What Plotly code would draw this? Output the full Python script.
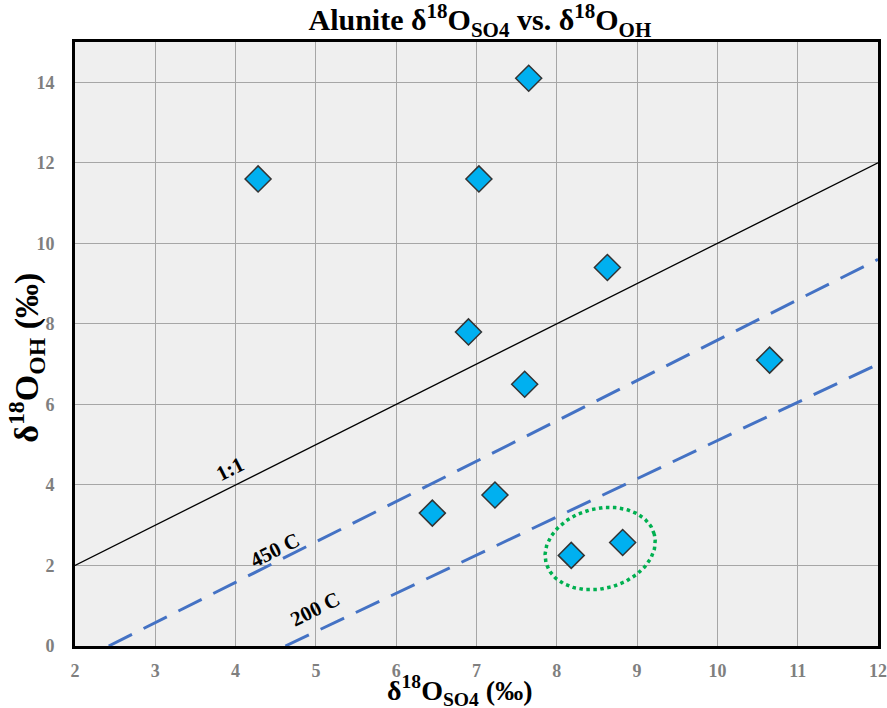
import numpy as np
import plotly.graph_objects as go

# Data
so4 = [4.28, 7.03, 7.65, 8.63, 6.90, 7.60, 10.65, 6.45, 7.23, 8.18, 8.82]
oh = [11.6, 11.6, 14.1, 9.4, 7.8, 6.5, 7.1, 3.3, 3.75, 2.25, 2.57]

line_11_x = [2, 12]
line_11_y = [2, 12]
line_450_x = [2.42, 12]
line_450_y = [0, 9.6]
line_200_x = [4.62, 12]
line_200_y = [0, 7.0]

x_ticks = list(range(2, 13))
y_ticks = list(range(0, 16, 2))

# ellipse parameters (data centre, pixel-ish radii, tilt)
ell_cx, ell_cy = 8.54, 2.42
ell_a_px, ell_b_px, ell_ang = 56, 40, 15

SERIF = "Liberation Serif, Times New Roman, serif"

fig = go.Figure()

fig.add_trace(go.Scatter(x=line_11_x, y=line_11_y, mode="lines",
                         line=dict(color="black", width=1.3), showlegend=False, hoverinfo="skip"))
fig.add_trace(go.Scatter(x=line_450_x, y=line_450_y, mode="lines",
                         line=dict(color="#4472C4", width=3, dash="26px,13px"), showlegend=False, hoverinfo="skip"))
fig.add_trace(go.Scatter(x=line_200_x, y=line_200_y, mode="lines",
                         line=dict(color="#4472C4", width=3, dash="26px,13px"), showlegend=False, hoverinfo="skip"))

# ellipse (computed from centre/radii, px scale converted to data units)
sx, sy = 80.3, 40.3
t = np.linspace(0, 2 * np.pi, 200)
th = np.deg2rad(ell_ang)
px = ell_a_px * np.cos(t) * np.cos(th) - ell_b_px * np.sin(t) * np.sin(th)
py = ell_a_px * np.cos(t) * np.sin(th) + ell_b_px * np.sin(t) * np.cos(th)
fig.add_trace(go.Scatter(x=ell_cx + px / sx, y=ell_cy + py / sy, mode="lines",
                         line=dict(color="#00B050", width=3.5, dash="dot"),
                         showlegend=False, hoverinfo="skip"))

fig.add_trace(go.Scatter(x=so4, y=oh, mode="markers",
                         marker=dict(symbol="diamond", size=20, color="#00B0F0",
                                     line=dict(color="#333333", width=1.5)),
                         showlegend=False))

ann_font = dict(family=SERIF, size=21, color="black")
angle = -np.degrees(np.arctan(sy / sx))
for txt, ax_, ay_ in [("<b>1:1</b>", 3.93, 4.4), ("<b>450 C</b>", 4.49, 2.38), ("<b>200 C</b>", 4.99, 0.93)]:
    fig.add_annotation(x=ax_, y=ay_, text=txt, showarrow=False, textangle=angle, font=ann_font)

# axis titles as annotations for precise placement
fig.add_annotation(xref="paper", yref="paper", x=0.479, y=-0.074, yanchor="middle", xanchor="center",
                   text="<b>δ<sup>18</sup>O<sub>SO4</sub> (‰)</b>", showarrow=False,
                   font=dict(family=SERIF, size=28, color="black"))
fig.add_annotation(xref="paper", yref="paper", x=-0.060, y=0.477, yanchor="middle", xanchor="center",
                   text="<b>δ<sup>18</sup>O<sub>OH</sub> (‰)</b>", showarrow=False, textangle=-90,
                   font=dict(family=SERIF, size=34, color="black"))

fig.update_layout(
    width=887, height=708,
    margin=dict(l=75, r=9, t=42, b=62, autoexpand=False),
    paper_bgcolor="white", plot_bgcolor="#EFEFEF",
    title=dict(text="<b>Alunite δ<sup>18</sup>O<sub>SO4</sub> vs. δ<sup>18</sup>O<sub>OH</sub></b>",
               x=0.541, xanchor="center", y=0.972, yanchor="middle",
               font=dict(family=SERIF, size=30, color="black")),
    font=dict(family=SERIF, size=18),
)
fig.update_xaxes(range=[2, 12], tickvals=x_ticks, showgrid=True, gridcolor="#A6A6A6", gridwidth=1,
                 showline=True, linecolor="black", linewidth=3, mirror=True, zeroline=False,
                 ticks="", ticklabelstandoff=6, automargin=False,
                 tickfont=dict(family=SERIF, size=18, color="#7F7F7F", weight="bold"))
fig.update_yaxes(range=[0, 15], tickvals=y_ticks, showgrid=True, gridcolor="#A6A6A6", gridwidth=1,
                 showline=True, linecolor="black", linewidth=3, mirror=True, zeroline=False,
                 ticks="", ticklabelstandoff=14, automargin=False,
                 tickfont=dict(family=SERIF, size=18, color="#7F7F7F", weight="bold"))

fig.write_html("out.html", config={"displayModeBar": False},
               post_script="document.body.style.margin='0';document.body.style.overflow='hidden';")
